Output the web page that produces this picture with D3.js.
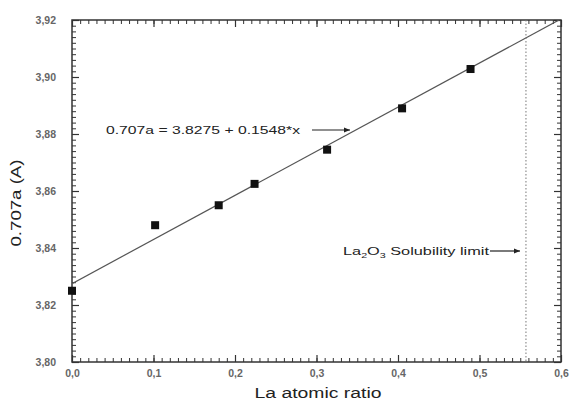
<!DOCTYPE html>
<html lang="en">
<head>
<meta charset="UTF-8">
<title>Lattice parameter vs La ratio</title>
<script src="https://cdn.jsdelivr.net/npm/d3@7/dist/d3.min.js"></script>
<style>
  body { margin: 0; background: #fff; }
  text { font-family: "Liberation Sans", Arial, sans-serif; fill: #333; }
</style>
</head>
<body>
<svg id="chart" width="571" height="409"></svg>
<script>
    // data
    let laRatio = [0.0, 0.102, 0.18, 0.224, 0.313, 0.405, 0.489];
    let latticeA = [3.825, 3.848, 3.855, 3.8625, 3.8745, 3.889, 3.9028];
    let fitIntercept = 3.8275, fitSlope = 0.1548;
    let solubilityLimit = 0.557;
    let xTicks = [0, 0.1, 0.2, 0.3, 0.4, 0.5, 0.6];
    let yTicks = [3.80, 3.82, 3.84, 3.86, 3.88, 3.90, 3.92];

    let svg = d3.select('svg#chart');
    let m = {left: 72, right: 10, top: 20, bottom: 47};
    let W = 571, H = 409;
    let x0 = m.left, x1 = W - m.right, y0 = H - m.bottom, y1 = m.top;

    let x = d3.scaleLinear().domain([0, 0.6]).range([x0, x1]);
    let y = d3.scaleLinear().domain([3.80, 3.92]).range([y0, y1]);
    let fmt = function(d){ return d.toFixed(d < 1 ? 1 : 2).replace('.', ','); };

    // minor tick positions: every 0.01 on x, every 0.002 on y
    let xMinor = d3.range(0, 61).map(function(i){ return i / 100; });
    let yMinor = d3.range(0, 61).map(function(i){ return 3.80 + i * 0.002; });

    svg.append('rect')
        .attr('x', x0).attr('y', y1)
        .attr('width', x1 - x0).attr('height', y0 - y1)
        .attr('fill', 'none').attr('stroke', '#333').attr('stroke-width', 1.5);

    // tick labels via axes
    let ax = svg.append('g').attr('transform', `translate(0,${y0})`)
        .call(d3.axisBottom(x).tickValues(xTicks).tickSize(0).tickPadding(8).tickFormat(fmt));
    let ay = svg.append('g').attr('transform', `translate(${x0},0)`)
        .call(d3.axisLeft(y).tickValues(yTicks).tickSize(0).tickPadding(16).tickFormat(fmt));
    [ax, ay].forEach(function(a){
        a.select('.domain').remove();
        a.selectAll('text').attr('font-size', 10.5).attr('font-weight', 'bold').style('fill', '#666');
    });

    // inward ticks on all four sides
    function tickAxis(axis, tr, vals, len, w){
        let a = svg.append('g').attr('transform', tr)
            .call(axis.tickValues(vals).tickSizeInner(-len).tickSizeOuter(0).tickFormat(function(){ return ''; }));
        a.select('.domain').remove();
        a.selectAll('.tick line').attr('stroke', '#333').attr('stroke-width', w);
    }
    tickAxis(d3.axisBottom(x), `translate(0,${y0})`, xMinor, 4, 1);
    tickAxis(d3.axisTop(x), `translate(0,${y1})`, xMinor, 4, 1);
    tickAxis(d3.axisLeft(y), `translate(${x0},0)`, yMinor, 4, 1);
    tickAxis(d3.axisRight(y), `translate(${x1},0)`, yMinor, 4, 1);
    tickAxis(d3.axisBottom(x), `translate(0,${y0})`, xTicks, 7, 1.2);
    tickAxis(d3.axisTop(x), `translate(0,${y1})`, xTicks, 7, 1.2);
    tickAxis(d3.axisLeft(y), `translate(${x0},0)`, yTicks, 7, 1.2);
    tickAxis(d3.axisRight(y), `translate(${x1},0)`, yTicks, 7, 1.2);

    // fitted line, clipped to plot area
    svg.append('clipPath').attr('id', 'clip').append('rect')
        .attr('x', x0).attr('y', y1).attr('width', x1 - x0).attr('height', y0 - y1);
    svg.append('line')
        .attr('clip-path', 'url(#clip)')
        .attr('x1', x(0)).attr('y1', y(fitIntercept))
        .attr('x2', x(0.6)).attr('y2', y(fitIntercept + fitSlope * 0.6))
        .attr('stroke', '#555').attr('stroke-width', 1.2);

    // solubility limit
    svg.append('line')
        .attr('x1', x(solubilityLimit)).attr('x2', x(solubilityLimit))
        .attr('y1', y(3.92)).attr('y2', y(3.80))
        .attr('stroke', '#777').attr('stroke-width', 1).attr('stroke-dasharray', '1.5,2');

    // points
    svg.selectAll('rect.pt')
        .data(laRatio)
        .enter()
        .append('rect')
        .attr('class', 'pt')
        .attr('x', function(d){ return x(d) - 4; })
        .attr('y', function(d, i){ return y(latticeA[i]) - 4; })
        .attr('width', 8).attr('height', 8)
        .attr('fill', '#111');

    // annotations
    svg.append('defs').append('marker')
        .attr('id', 'arr').attr('viewBox', '0 0 10 10').attr('refX', 10).attr('refY', 5)
        .attr('markerWidth', 7).attr('markerHeight', 5).attr('orient', 'auto')
        .append('path').attr('d', 'M0,1 L10,5 L0,9 z').attr('fill', '#222');

    svg.append('text').attr('x', 106).attr('y', 134).attr('font-size', 11.5)
        .attr('textLength', 194).attr('lengthAdjust', 'spacingAndGlyphs')
        .style('fill', '#222')
        .text('0.707a = 3.8275 + 0.1548*x');
    svg.append('line').attr('x1', 312).attr('x2', 350).attr('y1', 130).attr('y2', 130)
        .attr('stroke', '#222').attr('stroke-width', 1.2).attr('marker-end', 'url(#arr)');

    let t = svg.append('text').attr('x', 343).attr('y', 255).attr('font-size', 11.5)
        .attr('textLength', 146).attr('lengthAdjust', 'spacingAndGlyphs').style('fill', '#222');
    t.append('tspan').text('La');
    t.append('tspan').attr('font-size', 7.5).attr('dy', 3).text('2');
    t.append('tspan').attr('dy', -3).text('O');
    t.append('tspan').attr('font-size', 7.5).attr('dy', 3).text('3');
    t.append('tspan').attr('dy', -3).text(' Solubility limit');
    svg.append('line').attr('x1', 490).attr('x2', 520).attr('y1', 251).attr('y2', 251)
        .attr('stroke', '#222').attr('stroke-width', 1.2).attr('marker-end', 'url(#arr)');

    // axis titles
    svg.append('text').attr('x', 318).attr('y', 398)
        .attr('text-anchor', 'middle').attr('font-size', 14)
        .attr('textLength', 127).attr('lengthAdjust', 'spacingAndGlyphs')
        .style('fill', '#222').text('La atomic ratio');
    svg.append('text').attr('transform', 'translate(21,203) rotate(-90)')
        .attr('text-anchor', 'middle').attr('font-size', 14)
        .attr('textLength', 87).attr('lengthAdjust', 'spacingAndGlyphs')
        .style('fill', '#222').text('0.707a (A)');
</script>
</body>
</html>
